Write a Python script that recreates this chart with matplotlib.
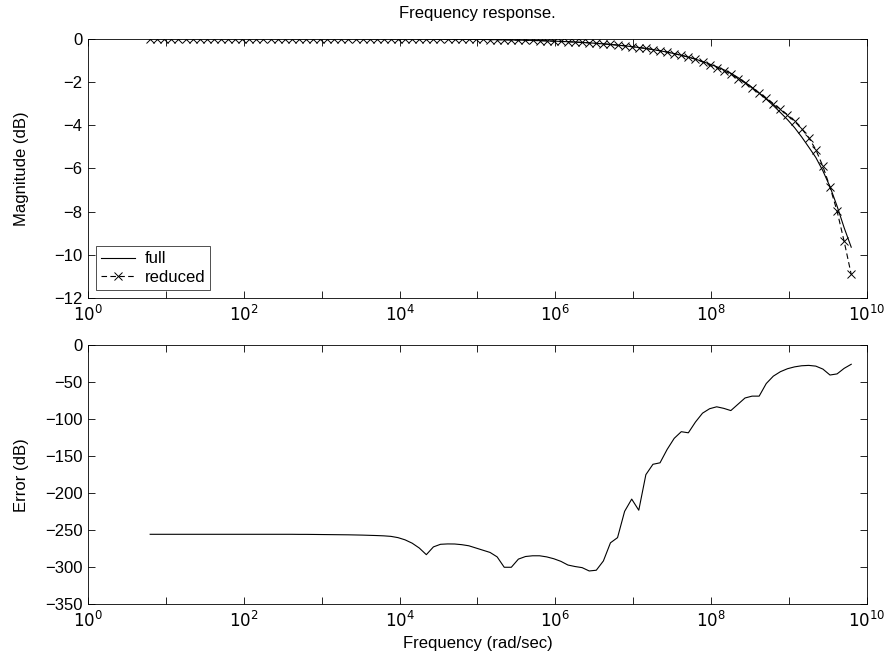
import numpy as np
import matplotlib
matplotlib.use("Agg")
import matplotlib.pyplot as plt

plt.rcParams['font.family'] = ['Liberation Sans', 'DejaVu Sans']
plt.rcParams['font.size'] = 12

# frequency grid: 100 points, 2*pi*1 .. 2*pi*1e9 rad/s
log_w_start = np.log10(2 * np.pi)
log_w_stop = np.log10(2 * np.pi * 1e9)
n_points = 100
freq = np.logspace(log_w_start, log_w_stop, n_points)

# full model magnitude (dB)
mag_full = [
    0.0, 0.0, 0.0, 0.0, 0.0, 0.0, 0.0, 0.0, 0.0, 0.0,
    -0.001, -0.001, -0.001, -0.001, -0.001, -0.001, -0.001, -0.001, -0.001, -0.001,
    -0.003, -0.003, -0.003, -0.003, -0.003, -0.005, -0.005, -0.005, -0.005, -0.005,
    -0.008, -0.008, -0.008, -0.008, -0.008, -0.013, -0.013, -0.013, -0.013, -0.013,
    -0.020, -0.022, -0.024, -0.027, -0.030, -0.033, -0.037, -0.041, -0.046, -0.051,
    -0.056, -0.063, -0.070, -0.077, -0.086, -0.095, -0.106, -0.118, -0.131, -0.145,
    -0.161, -0.179, -0.198, -0.220, -0.245, -0.272, -0.302, -0.335, -0.372, -0.413,
    -0.458, -0.508, -0.564, -0.626, -0.695, -0.772, -0.857, -0.95, -1.06, -1.18,
    -1.30, -1.44, -1.60, -1.80, -2.02, -2.26, -2.52, -2.80, -3.10, -3.42,
    -3.75, -4.12, -4.55, -5.02, -5.50, -6.12, -6.85, -7.75, -8.75, -9.65,
]

# reduced model magnitude (dB): equal to full up to index 78, then differs
reduced_split = 78
mag_reduced_tail = [
    -1.08, -1.24, -1.34, -1.50, -1.65, -1.85, -2.05, -2.27, -2.52, -2.75,
    -3.01, -3.27, -3.52, -3.83, -4.17, -4.58, -5.14, -5.91, -6.87, -7.98,
    -9.38, -10.91,
]
mag_reduced = mag_full[:reduced_split] + mag_reduced_tail

# error (dB)
err_db = [
    -255.5, -255.5, -255.5, -255.5, -255.5, -255.5, -255.5, -255.5, -255.5, -255.5,
    -255.5, -255.5, -255.5, -255.5, -255.5, -255.5, -255.5, -255.5, -255.5, -255.5,
    -255.5, -255.6, -255.6, -255.7, -255.8, -255.9, -256.0, -256.1, -256.2, -256.4,
    -256.6, -256.9, -257.2, -257.6, -258.3, -260.0, -263.0, -267.5, -274.0, -283.0,
    -272.5, -269.0, -268.5, -268.6, -269.5, -271.0, -274.0, -277.0, -280.0, -286.0,
    -300.0, -300.0, -289.0, -285.5, -284.5, -284.5, -286.0, -288.5, -292.0, -297.0,
    -299.0, -300.5, -305.0, -304.0, -291.5, -267.0, -260.0, -224.5, -208.0, -223.0,
    -175.0, -161.0, -159.0, -141.0, -126.0, -117.0, -118.5, -104.0, -92.0, -86.0,
    -83.4, -85.5, -88.5, -80.0, -71.5, -69.0, -69.0, -52.0, -42.0, -36.0,
    -32.0, -29.5, -28.0, -27.5, -28.5, -32.5, -40.5, -39.0, -31.5, -26.0,
]

xtick_exps = list(range(0, 11))
mag_yticks = [0, -2, -4, -6, -8, -10, -12]
err_yticks = [0, -50, -100, -150, -200, -250, -300, -350]

fig = plt.figure(figsize=(8.86, 6.64), dpi=100)
ax1 = fig.add_axes([0.0993, 0.5512, 0.8792, 0.3907])
ax2 = fig.add_axes([0.0993, 0.0899, 0.8792, 0.3905])

def style(ax):
    ax.set_xscale('log')
    ax.set_xlim(1, 1e10)
    ax.set_xticks([10.0 ** e for e in xtick_exps])
    ax.set_xticklabels([f'$10^{{{e}}}$' if e % 2 == 0 else '' for e in xtick_exps])
    ax.xaxis.set_minor_locator(matplotlib.ticker.NullLocator())
    ax.tick_params(direction='in', length=5, width=0.6, top=True, right=True,
                   labelsize=12, pad=4)
    for s in ax.spines.values():
        s.set_linewidth(0.6)
    ax.yaxis.set_label_coords(-0.076, 0.5)

ax1.semilogx(freq, mag_full, '-', color='black', lw=0.8, label='full')
ax1.semilogx(freq, mag_reduced, '--', color='black', lw=0.8, marker='x',
             markersize=5.5, markeredgewidth=0.7, dashes=(5, 3), label='reduced')
style(ax1)
ax1.set_ylim(-12, 0)
ax1.set_yticks(mag_yticks)
ax1.set_ylabel('Magnitude (dB)', fontsize=12)
ax1.set_title('Frequency response.', fontsize=12, pad=15)
leg = ax1.legend(loc='lower left', fontsize=12, frameon=True, fancybox=False,
                 edgecolor='black', handlelength=2.0, handletextpad=0.6,
                 borderpad=0.3, labelspacing=0.2, borderaxespad=0.5)
leg.get_frame().set_linewidth(0.6)

ax2.semilogx(freq, err_db, '-', color='black', lw=0.8)
style(ax2)
ax2.set_ylim(-350, 0)
ax2.set_yticks(err_yticks)
ax2.set_ylabel('Error (dB)', fontsize=12)
ax2.set_xlabel('Frequency (rad/sec)', fontsize=12)

fig.savefig('out.png', dpi=100)
